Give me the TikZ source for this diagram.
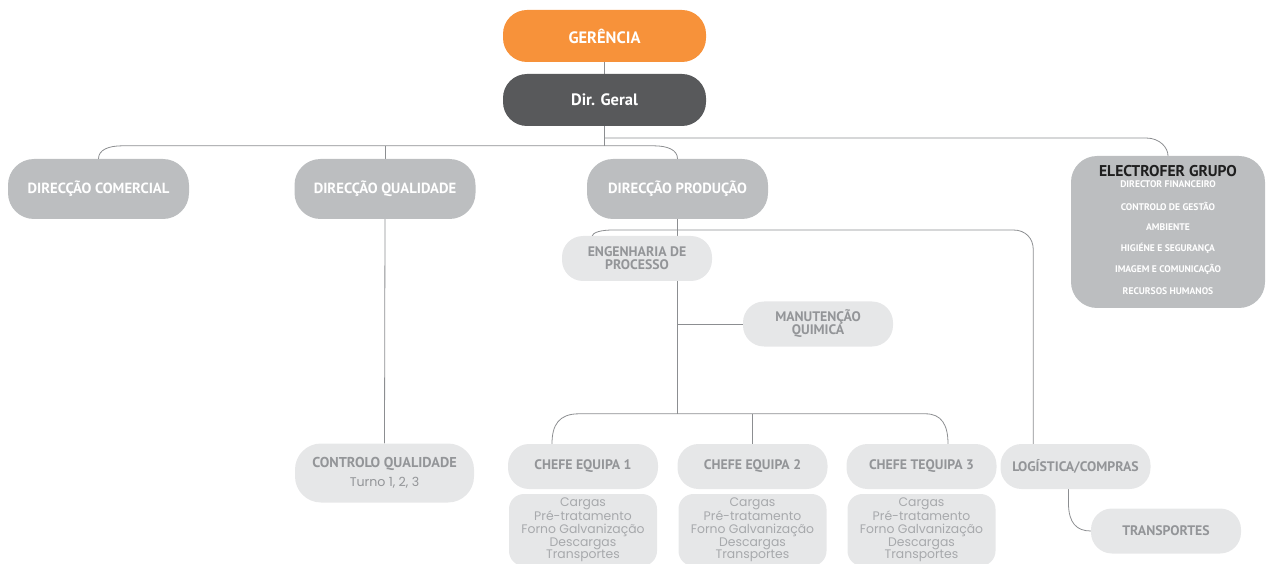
\documentclass[tikz,border=0pt]{standalone}
\usepackage{fontspec}
\setmainfont{PT Sans}
\newfontfamily\detfont{Poppins}
\usetikzlibrary{backgrounds,calc}
\definecolor{orng}{HTML}{F7923A}
\definecolor{dark}{HTML}{58595B}
\definecolor{mgray}{HTML}{BCBEC0}
\definecolor{lgray}{HTML}{E6E7E8}
\definecolor{tgray}{HTML}{939598}
\definecolor{dgray}{HTML}{A7A9AC}
\definecolor{lineg}{HTML}{8C8E91}
\tikzset{
  box/.style={rectangle, inner sep=0pt, align=center},
  topbox/.style={box, minimum width=203pt, minimum height=52pt, rounded corners=24pt, text=white, font=\bfseries\fontsize{16.5}{18}\selectfont},
  midbox/.style={box, fill=mgray, text=white, minimum width=181pt, minimum height=60pt, rounded corners=26pt, font=\bfseries\fontsize{14.7}{16}\selectfont},
  subbox/.style={box, fill=lgray, text=tgray, minimum width=150pt, minimum height=45pt, rounded corners=21pt, font=\bfseries\fontsize{13.8}{13}\selectfont},
  detbox/.style={box, fill=lgray, text=dgray, minimum width=148pt, minimum height=72pt, rounded corners=15pt, font=\detfont\fontsize{12.4}{12.8}\selectfont},
  grpitem/.style={text=white, inner sep=0pt, font=\bfseries\fontsize{9.6}{10}\selectfont},
  conn/.style={draw=lineg, line width=0.8pt}
}
\begin{document}
\begin{tikzpicture}[x=1pt,y=-1pt]
\useasboundingbox (0,0) rectangle (1270,564);
% nodes
\node[topbox, fill=orng] (ger) at (604.5,36) {GERÊNCIA};
\node[topbox, fill=dark] (dir) at (604.5,100) {Dir. Geral};
\node[midbox] (com) at (98.5,189) {DIRECÇÃO COMERCIAL};
\node[midbox] (qua) at (385,189) {DIRECÇÃO QUALIDADE};
\node[midbox] (pro) at (677.5,189) {DIRECÇÃO PRODUÇÃO};
\node[box, fill=mgray, minimum width=194pt, minimum height=152pt, rounded corners=26pt] (grp) at (1168,232) {};
\node[inner sep=0pt, text=black!88, font=\bfseries\fontsize{15.6}{17}\selectfont] (grpt) at (1168,171) {ELECTROFER GRUPO};
\node[grpitem] (g1) at (1168,184.5) {DIRECTOR FINANCEIRO};
\node[grpitem] (g2) at (1168,206) {CONTROLO DE GESTÃO};
\node[grpitem] (g3) at (1168,227) {AMBIENTE};
\node[grpitem] (g4) at (1168,248) {HIGIÉNE E SEGURANÇA};
\node[grpitem] (g5) at (1168,269.5) {IMAGEM E COMUNICAÇÃO};
\node[grpitem] (g6) at (1168,291) {RECURSOS HUMANOS};
\node[subbox] (eng) at (637,258.5) {ENGENHARIA DE\\PROCESSO};
\node[subbox] (man) at (818,324) {MANUTENÇÃO\\QUIMICA};
\node[box, fill=lgray, text=tgray, minimum width=179pt, minimum height=59pt, rounded corners=26pt] (cq) at (384.5,473)
  {{\bfseries\fontsize{14.3}{15}\selectfont CONTROLO QUALIDADE}\\[6pt]{\detfont\fontsize{12.6}{13}\selectfont Turno 1, 2, 3}};
\node[subbox] (ch1) at (583,466.5) {CHEFE EQUIPA 1};
\node[subbox] (ch2) at (752.5,466.5) {CHEFE EQUIPA 2};
\node[subbox] (ch3) at (921.5,466.5) {CHEFE TEQUIPA 3};
\node[subbox] (log) at (1075.5,466.5) {LOGÍSTICA/COMPRAS};
\node[subbox] (tra) at (1166,531) {TRANSPORTES};
\node[detbox] (d1) at (583,530) {Cargas\\Pré-tratamento\\Forno Galvanização\\Descargas\\Transportes};
\node[detbox] (d2) at (752.5,530) {Cargas\\Pré-tratamento\\Forno Galvanização\\Descargas\\Transportes};
\node[detbox] (d3) at (921.5,530) {Cargas\\Pré-tratamento\\Forno Galvanização\\Descargas\\Transportes};
% helper coordinates
\coordinate (yA) at (0,146);
\coordinate (yG) at (0,138);
\coordinate (yP) at (0,230);
\coordinate (yC) at (0,414);
\coordinate (gc) at (grp.north |- yG);
\coordinate (pb) at (pro.south |- yP);
\coordinate (lx) at ($(log.north west)+(33,0)$);
\coordinate (lg) at (lx |- yP);
\begin{scope}[on background layer]
\draw[conn] (ger) -- (dir);
\draw[conn] (dir.south) -- (dir.south |- yA);
\draw[conn] (com.north) .. controls ($(com.north)+(0,-9)$) and ($(com.north)+(10,-13)$) .. ($(com.north)+(24,-13)$)
  -- ($(pro.north)+(-24,-13)$) .. controls ($(pro.north)+(-10,-13)$) and ($(pro.north)+(0,-9)$) .. (pro.north);
\draw[conn] (qua.north) -- (qua.north |- yA);
\draw[conn] (dir.south |- yG) -- ($(gc)+(-22,0)$) .. controls ($(gc)+(-8,0)$) and ($(grp.north)+(0,-8)$) .. (grp.north);
\draw[conn] (qua.south) -- (cq.north);
\draw[conn] (pro.south) -- (pro.south |- yC);
\draw[conn] ($(pb)+(-86,7)$) .. controls ($(pb)+(-85,2)$) and ($(pb)+(-76,0)$) .. ($(pb)+(-64,0)$)
  -- ($(lg)+(-20,0)$) .. controls ($(lg)+(-8,0)$) and ($(lg)+(0,8)$) .. ($(lg)+(0,20)$) -- (lx);
\draw[conn] (man.west) -- (man.west -| pro.south);
\draw[conn] ($(ch1.north)+(-31,0)$) .. controls ($(ch1.north)+(-31,-19)$) and ($(ch1.north)+(-24,-30)$) .. ($(ch1.north)+(-4,-30)$)
  -- ($(ch3.north)+(4,-30)$) .. controls ($(ch3.north)+(20,-30)$) and ($(ch3.north)+(26.5,-19)$) .. ($(ch3.north)+(26.5,0)$);
\draw[conn] (ch2.north) -- (ch2.north |- yC);
\draw[conn] ($(log.south)+(-7,0)$) -- ($(log.south)+(-7,14)$) .. controls ($(log.south)+(-7,34)$) and ($(tra.west)+(-14,0)$) .. (tra.west);
\end{scope}
\end{tikzpicture}
\end{document}
